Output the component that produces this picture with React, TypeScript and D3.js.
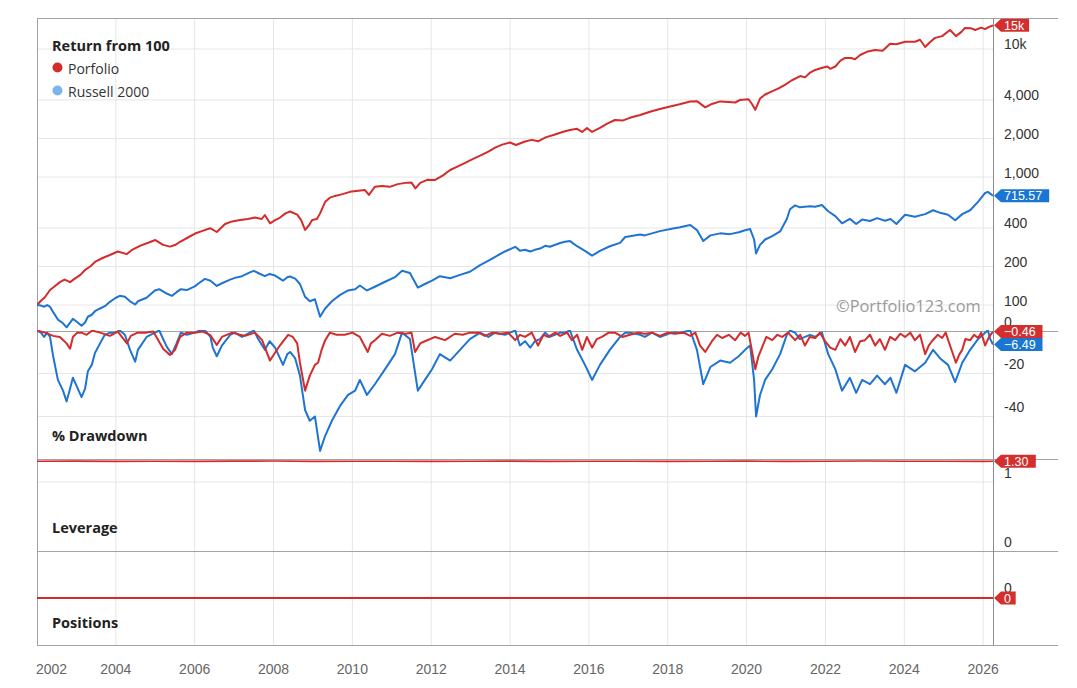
import React from 'react';
import * as d3 from 'd3';

// ---------- data ----------
const yearTicks = [2002, 2004, 2006, 2008, 2010, 2012, 2014, 2016, 2018, 2020, 2022, 2024, 2026];
const returnTicks = [100, 200, 400, 1000, 2000, 4000, 10000];
const returnTickLabels = ['100', '200', '400', '1,000', '2,000', '4,000', '10k'];
const drawdownTicks = [0, -20, -40];
const leverageTicks = [0, 1];
const positionTicks = [0];

const seriesNames = ['Porfolio', 'Russell 2000'];

// [decimal year, value]
const portfolioReturn: [number, number][] = [
  [2002.0, 100], [2002.1, 108], [2002.2, 115], [2002.33, 131], [2002.45, 140], [2002.58, 151],
  [2002.7, 158], [2002.84, 151], [2002.95, 160], [2003.1, 172], [2003.22, 188], [2003.35, 200],
  [2003.47, 217], [2003.65, 232], [2003.85, 246], [2004.05, 262], [2004.28, 250], [2004.4, 268],
  [2004.61, 290], [2004.87, 311], [2005.0, 322], [2005.2, 295], [2005.37, 286], [2005.5, 294],
  [2005.63, 312], [2005.85, 340], [2006.01, 362], [2006.2, 380], [2006.39, 398], [2006.56, 372],
  [2006.77, 430], [2006.95, 450], [2007.15, 462], [2007.35, 470], [2007.53, 482], [2007.7, 470],
  [2007.78, 505], [2007.91, 435], [2008.05, 462], [2008.16, 480], [2008.3, 520], [2008.42, 538],
  [2008.6, 508], [2008.7, 460], [2008.8, 386], [2008.9, 420], [2008.98, 462], [2009.1, 470],
  [2009.18, 520], [2009.31, 640], [2009.43, 690], [2009.56, 712], [2009.75, 735], [2009.94, 766],
  [2010.15, 780], [2010.32, 791], [2010.42, 725], [2010.57, 840], [2010.75, 850], [2010.95, 838],
  [2011.15, 880], [2011.34, 900], [2011.5, 905], [2011.6, 815], [2011.72, 900], [2011.9, 950],
  [2012.1, 948], [2012.3, 1030], [2012.48, 1134], [2012.65, 1200], [2012.86, 1290], [2013.05, 1380],
  [2013.24, 1467], [2013.45, 1580], [2013.62, 1697], [2013.8, 1790], [2014.0, 1860], [2014.15, 1780],
  [2014.38, 1895], [2014.55, 1950], [2014.71, 1900], [2014.9, 2039], [2015.14, 2150], [2015.35, 2260],
  [2015.52, 2330], [2015.7, 2380], [2015.83, 2250], [2015.95, 2418], [2016.08, 2250], [2016.28, 2418],
  [2016.45, 2600], [2016.66, 2789], [2016.85, 2760], [2017.04, 2900], [2017.3, 3050], [2017.55, 3237],
  [2017.8, 3400], [2018.06, 3550], [2018.3, 3700], [2018.57, 3895], [2018.75, 3900], [2018.95, 3500],
  [2019.12, 3720], [2019.33, 3895], [2019.55, 3850], [2019.71, 3820], [2019.83, 3996], [2020.05, 4050],
  [2020.14, 3700], [2020.22, 3350], [2020.34, 4100], [2020.47, 4410], [2020.6, 4610], [2020.8, 4900],
  [2020.97, 5250], [2021.15, 5700], [2021.36, 6150], [2021.48, 6000], [2021.6, 6500], [2021.74, 6856],
  [2021.9, 7100], [2022.05, 7300], [2022.12, 7000], [2022.25, 7300], [2022.38, 8100], [2022.5, 8510],
  [2022.65, 8500], [2022.75, 8300], [2022.88, 8980], [2023.05, 9500], [2023.26, 9826], [2023.45, 9700],
  [2023.64, 11000], [2023.8, 10900], [2024.02, 11400], [2024.27, 11400], [2024.4, 11800], [2024.53, 10360],
  [2024.65, 11300], [2024.78, 12210], [2024.96, 12600], [2025.16, 14080], [2025.31, 12600],
  [2025.45, 13600], [2025.54, 14600], [2025.7, 14500], [2025.8, 14080], [2025.95, 14700],
  [2026.05, 14300], [2026.15, 14900], [2026.25, 15300],
];

const russellReturn: [number, number][] = [
  [2002.0, 100], [2002.1, 99], [2002.18, 97], [2002.26, 100], [2002.33, 97], [2002.41, 88],
  [2002.53, 77], [2002.66, 72], [2002.75, 67], [2002.84, 73], [2002.91, 78], [2003.01, 74],
  [2003.13, 69], [2003.22, 73], [2003.29, 81], [2003.39, 84], [2003.47, 89.5], [2003.6, 94],
  [2003.72, 98], [2003.85, 106], [2003.98, 113], [2004.1, 118], [2004.23, 116], [2004.36, 107],
  [2004.49, 101], [2004.56, 107], [2004.78, 114], [2004.99, 130], [2005.1, 133], [2005.29, 123],
  [2005.42, 118], [2005.54, 126], [2005.65, 133], [2005.8, 131], [2006.0, 140], [2006.13, 150],
  [2006.26, 160], [2006.4, 155], [2006.56, 141], [2006.69, 148], [2006.9, 158], [2007.02, 163],
  [2007.2, 168], [2007.4, 180], [2007.5, 185], [2007.61, 178], [2007.78, 168], [2007.9, 175],
  [2008.04, 170], [2008.24, 155], [2008.35, 165], [2008.42, 167], [2008.55, 161], [2008.67, 146],
  [2008.8, 116], [2008.92, 107], [2009.05, 111], [2009.18, 81], [2009.31, 94], [2009.48, 107],
  [2009.69, 120], [2009.89, 130], [2010.07, 133], [2010.19, 142], [2010.37, 130], [2010.57, 139],
  [2010.83, 152], [2011.08, 165], [2011.26, 185], [2011.46, 178], [2011.66, 137], [2011.84, 146],
  [2012.02, 155], [2012.22, 168], [2012.48, 162], [2012.73, 172], [2012.98, 182], [2013.24, 205],
  [2013.49, 225], [2013.7, 245], [2013.87, 262], [2014.13, 285], [2014.25, 266], [2014.38, 270],
  [2014.51, 262], [2014.63, 270], [2014.76, 276], [2014.89, 290], [2015.01, 285], [2015.27, 305],
  [2015.39, 312], [2015.52, 316], [2015.7, 288], [2015.9, 265], [2016.08, 243], [2016.28, 265],
  [2016.53, 288], [2016.79, 306], [2016.92, 340], [2017.04, 345], [2017.3, 355], [2017.42, 350],
  [2017.8, 378], [2018.1, 395], [2018.31, 405], [2018.57, 422], [2018.74, 385], [2018.9, 316],
  [2019.08, 350], [2019.33, 363], [2019.58, 358], [2019.8, 370], [2019.96, 384], [2020.09, 392],
  [2020.19, 325], [2020.24, 253], [2020.34, 295], [2020.47, 325], [2020.65, 346], [2020.85, 376],
  [2021.02, 470], [2021.1, 560], [2021.23, 600], [2021.35, 580], [2021.48, 585], [2021.61, 590],
  [2021.74, 586], [2021.91, 604], [2022.07, 540], [2022.25, 495], [2022.42, 435], [2022.62, 471],
  [2022.78, 429], [2022.93, 465], [2023.13, 453], [2023.31, 477], [2023.51, 455], [2023.65, 470],
  [2023.8, 430], [2024.02, 507], [2024.27, 490], [2024.53, 513], [2024.73, 550], [2024.91, 525],
  [2025.11, 507], [2025.29, 460], [2025.47, 513], [2025.67, 550], [2025.87, 640], [2026.0, 720],
  [2026.05, 750], [2026.12, 765], [2026.25, 715.57],
];

const portfolioDrawdown: [number, number][] = [
  [2002.0, 0], [2002.2, -1], [2002.41, -2.5], [2002.58, -3], [2002.75, -6], [2002.84, -8.5],
  [2002.91, -3], [2003.02, -1], [2003.13, -1], [2003.26, -2], [2003.4, 0], [2003.6, -1],
  [2003.85, -2.5], [2004.05, -0.5], [2004.28, -6], [2004.38, -2.5], [2004.55, -1], [2004.74, -1],
  [2004.95, -0.5], [2005.2, -8.5], [2005.37, -11.4], [2005.5, -9], [2005.63, -3], [2005.8, -1],
  [2006.0, -1], [2006.2, -0.5], [2006.39, -2], [2006.56, -6.7], [2006.69, -3], [2006.95, -1],
  [2007.15, -2], [2007.28, -2.5], [2007.53, -1], [2007.71, -4.5], [2007.91, -14], [2008.05, -10],
  [2008.16, -7], [2008.37, -2], [2008.49, -3], [2008.6, -6], [2008.67, -15], [2008.8, -28],
  [2008.92, -21], [2009.05, -16], [2009.13, -15], [2009.22, -9], [2009.31, -4.5], [2009.43, -1],
  [2009.6, -2], [2009.81, -2], [2010.0, -1], [2010.19, -3], [2010.39, -10], [2010.47, -6],
  [2010.57, -4.5], [2010.75, -1.5], [2010.95, -2.5], [2011.15, -1], [2011.34, -1.5], [2011.5, -1],
  [2011.59, -10], [2011.72, -6], [2011.84, -5], [2012.1, -3], [2012.35, -4.5], [2012.6, -1.5],
  [2012.8, -2], [2012.98, -1], [2013.2, -1], [2013.36, -2.5], [2013.55, -1], [2013.74, -1.5],
  [2013.95, -1], [2014.13, -4.5], [2014.25, -2], [2014.38, -3], [2014.55, -1], [2014.71, -7],
  [2014.85, -2], [2014.96, -3], [2015.15, -1], [2015.27, -2.5], [2015.45, -1], [2015.57, -4.5],
  [2015.7, -2], [2015.83, -9], [2015.95, -3], [2016.08, -8], [2016.2, -4], [2016.33, -3],
  [2016.5, -1], [2016.66, -1], [2016.85, -3], [2017.04, -2], [2017.25, -1], [2017.42, -1.5],
  [2017.6, -1], [2017.8, -2.5], [2018.0, -1], [2018.18, -1.5], [2018.4, -1], [2018.57, -2.5],
  [2018.7, -1], [2018.82, -7], [2018.95, -10], [2019.12, -5], [2019.25, -2], [2019.38, -3.5],
  [2019.55, -2], [2019.71, -4.5], [2019.85, -1], [2019.96, -2.5], [2020.05, -1], [2020.14, -10],
  [2020.22, -18], [2020.3, -12], [2020.39, -8], [2020.5, -3], [2020.65, -4.5], [2020.78, -2],
  [2020.9, -3], [2021.05, -1], [2021.23, -4.5], [2021.36, -2], [2021.48, -7], [2021.6, -3],
  [2021.74, -3.5], [2021.86, -1], [2021.99, -5], [2022.12, -8], [2022.25, -9], [2022.38, -4],
  [2022.5, -7], [2022.62, -3], [2022.75, -10], [2022.88, -5], [2023.0, -4.5], [2023.13, -2],
  [2023.26, -7], [2023.38, -4], [2023.51, -9], [2023.64, -3], [2023.77, -4.5], [2023.9, -1.5],
  [2024.02, -3], [2024.15, -1], [2024.27, -4.5], [2024.4, -2], [2024.53, -11], [2024.62, -7],
  [2024.7, -5], [2024.85, -2], [2024.96, -3.5], [2025.05, -1], [2025.16, -7], [2025.31, -15],
  [2025.4, -11], [2025.47, -9], [2025.55, -4], [2025.67, -4.5], [2025.77, -2], [2025.87, -3.5],
  [2025.95, -1], [2026.05, -7], [2026.15, -3], [2026.25, -0.46],
];

const russellDrawdown: [number, number][] = [
  [2002.0, 0], [2002.1, -1], [2002.18, -3], [2002.26, -1], [2002.33, -3], [2002.41, -12],
  [2002.53, -23], [2002.66, -28], [2002.75, -33], [2002.84, -27], [2002.91, -22], [2003.01, -26],
  [2003.13, -31], [2003.22, -27], [2003.29, -19], [2003.39, -16], [2003.47, -10.5], [2003.6, -6],
  [2003.72, -2], [2003.85, -1], [2003.98, -1], [2004.1, 0], [2004.23, -2], [2004.36, -9],
  [2004.49, -14.5], [2004.56, -9], [2004.78, -3], [2004.99, -1], [2005.1, 0], [2005.29, -7.5],
  [2005.42, -11], [2005.54, -6], [2005.65, -1], [2005.8, -2], [2006.0, -1], [2006.13, 0],
  [2006.26, 0], [2006.4, -3], [2006.46, -8], [2006.56, -12], [2006.69, -7], [2006.9, -2],
  [2007.02, -1], [2007.2, -3], [2007.4, -1], [2007.5, 0], [2007.61, -4], [2007.78, -9],
  [2007.9, -5], [2008.04, -8], [2008.24, -16], [2008.35, -11], [2008.42, -10], [2008.55, -13],
  [2008.67, -21], [2008.8, -37], [2008.92, -42], [2009.05, -40], [2009.18, -56], [2009.31, -49],
  [2009.48, -42], [2009.69, -35], [2009.89, -30], [2010.07, -28], [2010.19, -23], [2010.37, -30],
  [2010.57, -25], [2010.83, -18], [2011.08, -11], [2011.26, -1], [2011.46, -4], [2011.66, -28],
  [2011.84, -23], [2012.02, -18], [2012.22, -11], [2012.48, -14], [2012.73, -9], [2012.98, -4],
  [2013.24, -1], [2013.45, -3], [2013.62, -1], [2013.87, -2], [2014.0, -1], [2014.13, 0],
  [2014.25, -7], [2014.38, -5], [2014.51, -8], [2014.63, -5], [2014.76, -4], [2014.89, -1],
  [2015.01, -3], [2015.27, -1], [2015.39, -1], [2015.52, 0], [2015.7, -9], [2015.9, -16],
  [2016.08, -23], [2016.28, -16], [2016.53, -9], [2016.79, -3], [2016.92, -1], [2017.04, -1],
  [2017.3, -2], [2017.42, -3], [2017.6, -1], [2017.8, -3], [2018.1, -1], [2018.31, -1],
  [2018.57, 0], [2018.74, -9], [2018.9, -25], [2019.08, -17], [2019.33, -14], [2019.58, -15],
  [2019.8, -12], [2019.96, -9], [2020.09, -7], [2020.19, -23], [2020.24, -40], [2020.34, -30],
  [2020.47, -23], [2020.65, -18], [2020.85, -11], [2021.02, -2], [2021.1, 0], [2021.23, -1],
  [2021.35, -4], [2021.48, -3], [2021.61, -2], [2021.74, -3], [2021.91, -1], [2022.07, -11],
  [2022.25, -18], [2022.42, -28], [2022.62, -22], [2022.78, -29], [2022.93, -23], [2023.13, -25],
  [2023.31, -21], [2023.51, -25], [2023.65, -22], [2023.8, -29], [2024.02, -16], [2024.27, -19],
  [2024.53, -15], [2024.73, -9], [2024.91, -13], [2025.11, -16], [2025.29, -24], [2025.47, -15],
  [2025.67, -9], [2025.87, -4], [2026.0, -2], [2026.05, -1], [2026.12, 0], [2026.18, -4],
  [2026.25, -6.49],
];

const leverage: [number, number][] = [
  [2002.0, 1.3], [2003.0, 1.302], [2004.0, 1.298], [2005.0, 1.301], [2006.0, 1.299], [2007.0, 1.302],
  [2008.0, 1.303], [2009.0, 1.298], [2010.0, 1.3], [2011.0, 1.301], [2012.0, 1.299], [2013.0, 1.3],
  [2014.0, 1.302], [2015.0, 1.299], [2016.0, 1.3], [2017.0, 1.301], [2018.0, 1.299], [2019.0, 1.3],
  [2020.0, 1.302], [2021.0, 1.299], [2022.0, 1.301], [2023.0, 1.304], [2024.0, 1.3], [2025.0, 1.301],
  [2026.0, 1.299], [2026.25, 1.3],
];

const positions: [number, number][] = [[2002.0, 0], [2026.25, 0]];

// ---------- layout ----------
const W = 1077;
const H = 688;
const L = 37;
const R = 993;
const FR = 1058;
const P_RET: [number, number] = [18, 331];
const P_DD: [number, number] = [331, 459];
const P_LEV: [number, number] = [459, 551];
const P_POS: [number, number] = [551, 645];

const RED = '#d42b2b';
const BLUE = '#1f74d2';
const BADGE_RED = '#d32f2f';
const BADGE_BLUE = '#1976d2';
const GRID = '#e6e6e6';
const FRAME = '#a3a3a3';
const AXIS_FONT = '"Liberation Sans", Arial, sans-serif';
const TITLE_FONT = '"Open Sans", "Noto Sans", sans-serif';

const x = d3.scaleLinear().domain([2002, 2026.25]).range([L, R]);
const yRet = d3.scaleLog().domain([62.7, 17460]).range([P_RET[1], P_RET[0]]);
const yDD = d3.scaleLinear().domain([-59.8, 0]).range([P_DD[1], 330.5]);
const yLev = d3.scaleLinear().domain([0, 1.333]).range([P_LEV[1], P_LEV[0]]);
const yPos = d3.scaleLinear().domain([-1, 1]).range([P_POS[1], P_POS[0]]);

function linePath(data: [number, number][], y: (v: number) => number) {
  return d3
    .line<[number, number]>()
    .x((d) => x(d[0]))
    .y((d) => y(d[1]))(data) as string;
}

function Badge({ y, text, color }: { y: number; text: string; color: string }) {
  const w = text.length * 6.7 + 8;
  const h = 13;
  const x0 = R + 1;
  const x1 = R + 8;
  const d = `M${x0},${y} L${x1},${y - h / 2} L${x1 + w},${y - h / 2} L${x1 + w},${y + h / 2} L${x1},${y + h / 2} Z`;
  return (
    <g>
      <path d={d} fill={color} />
      <text x={x1 + 3} y={y + 4.5} fill="#fff" fontSize={12.5} fontFamily={AXIS_FONT}>
        {text}
      </text>
    </g>
  );
}

const fmt2 = d3.format('.2f');

export default function App() {
  const last = (a: [number, number][]) => a[a.length - 1][1];
  const pLast = last(portfolioReturn);
  const rLast = last(russellReturn);

  return (
    <svg width={W} height={H} style={{ position: 'absolute', left: 0, top: 0, background: '#fff' }}>
      <defs>
        <clipPath id="cRet"><rect x={L} y={P_RET[0]} width={R - L} height={P_RET[1] - P_RET[0]} /></clipPath>
        <clipPath id="cDD"><rect x={L} y={P_DD[0] - 1} width={R - L} height={P_DD[1] - P_DD[0] + 1} /></clipPath>
        <clipPath id="cLev"><rect x={L} y={P_LEV[0]} width={R - L} height={P_LEV[1] - P_LEV[0]} /></clipPath>
        <clipPath id="cPos"><rect x={L} y={P_POS[0]} width={R - L} height={P_POS[1] - P_POS[0]} /></clipPath>
      </defs>

      {yearTicks.slice(1).map((t) => (
        <line key={'vg' + t} x1={x(t)} x2={x(t)} y1={P_RET[0]} y2={P_POS[1]} stroke={GRID} strokeWidth={1} />
      ))}

      {returnTicks.map((v) => (
        <line key={'rg' + v} x1={L} x2={R} y1={yRet(v)} y2={yRet(v)} stroke={GRID} />
      ))}
      {drawdownTicks.slice(1).map((v) => (
        <line key={'dg' + v} x1={L} x2={R} y1={yDD(v)} y2={yDD(v)} stroke={GRID} />
      ))}
      {leverageTicks.slice(1).map((v) => (
        <line key={'lg' + v} x1={L} x2={R} y1={yLev(v)} y2={yLev(v)} stroke={GRID} />
      ))}

      <text x={836} y={312} fontSize={16.4} fill="#9a9a9a" fontFamily={TITLE_FONT}>
        ©Portfolio123.com
      </text>

      <line x1={L} x2={FR} y1={P_RET[0] + 0.5} y2={P_RET[0] + 0.5} stroke={FRAME} />
      <line x1={L} x2={FR} y1={P_DD[0] + 0.5} y2={P_DD[0] + 0.5} stroke={FRAME} />
      <line x1={L} x2={FR} y1={P_LEV[0] + 0.5} y2={P_LEV[0] + 0.5} stroke={FRAME} />
      <line x1={L} x2={FR} y1={P_POS[0] + 0.5} y2={P_POS[0] + 0.5} stroke={FRAME} />
      <line x1={L} x2={FR} y1={P_POS[1] + 0.5} y2={P_POS[1] + 0.5} stroke={FRAME} />
      <line x1={L + 0.5} x2={L + 0.5} y1={P_RET[0]} y2={P_POS[1]} stroke={FRAME} />
      <line x1={R + 0.5} x2={R + 0.5} y1={P_RET[0]} y2={P_POS[1]} stroke="#8c8c8c" />

      <g clipPath="url(#cRet)" fill="none" strokeWidth={2} strokeLinejoin="round">
        <path d={linePath(portfolioReturn, yRet)} stroke={RED} />
        <path d={linePath(russellReturn, yRet)} stroke={BLUE} />
      </g>
      <g clipPath="url(#cDD)" fill="none" strokeWidth={2} strokeLinejoin="round">
        <path d={linePath(russellDrawdown, yDD)} stroke={BLUE} />
        <path d={linePath(portfolioDrawdown, yDD)} stroke={RED} />
      </g>
      <g clipPath="url(#cLev)" fill="none" strokeWidth={1.6}>
        <path d={linePath(leverage, yLev)} stroke={RED} />
      </g>
      <g clipPath="url(#cPos)" fill="none" strokeWidth={2}>
        <path d={linePath(positions, yPos)} stroke={RED} />
      </g>

      <g fontFamily={AXIS_FONT} fontSize={14} fill="#333">
        {returnTicks.map((v, i) => (
          <text key={'rl' + v} x={1004} y={yRet(v) + 0.5}>{returnTickLabels[i]}</text>
        ))}
        {drawdownTicks.map((v) => (
          <text key={'dl' + v} x={1004} y={yDD(v) - 4}>{String(v)}</text>
        ))}
        {leverageTicks.map((v) => (
          <text key={'ll' + v} x={1004} y={yLev(v) - 4}>{String(v)}</text>
        ))}
        {positionTicks.map((v) => (
          <text key={'pl' + v} x={1004} y={yPos(v) - 5}>{String(v)}</text>
        ))}
      </g>

      <g fontFamily={AXIS_FONT} fontSize={14} fill="#666">
        {yearTicks.map((t, i) => (
          <text key={'xl' + t} x={i === 0 ? 36 : x(t)} y={674} textAnchor={i === 0 ? 'start' : 'middle'}>
            {t}
          </text>
        ))}
      </g>

      <Badge y={yRet(pLast)} text={Math.round(pLast / 1000) + 'k'} color={BADGE_RED} />
      <Badge y={yRet(rLast)} text={fmt2(rLast)} color={BADGE_BLUE} />
      <Badge y={yDD(last(portfolioDrawdown))} text={fmt2(last(portfolioDrawdown))} color={BADGE_RED} />
      <Badge y={yDD(last(russellDrawdown))} text={fmt2(last(russellDrawdown))} color={BADGE_BLUE} />
      <Badge y={yLev(last(leverage))} text={fmt2(last(leverage))} color={BADGE_RED} />
      <Badge y={yPos(last(positions))} text={String(last(positions))} color={BADGE_RED} />

      <g fontFamily={TITLE_FONT} fill="#222">
        <text x={52} y={51} fontSize={14.5} fontWeight={700}>Return from 100</text>
        <circle cx={57.5} cy={67.5} r={5} fill={RED} />
        <text x={68} y={74} fontSize={14} fill="#333">{seriesNames[0]}</text>
        <circle cx={57.5} cy={90.5} r={5} fill="#7cb5ec" />
        <text x={68} y={97} fontSize={14} fill="#333">{seriesNames[1]}</text>
        <text x={52} y={441} fontSize={14.5} fontWeight={700}>% Drawdown</text>
        <text x={52} y={533} fontSize={14.5} fontWeight={700}>Leverage</text>
        <text x={52} y={628} fontSize={14.5} fontWeight={700}>Positions</text>
      </g>
    </svg>
  );
}
